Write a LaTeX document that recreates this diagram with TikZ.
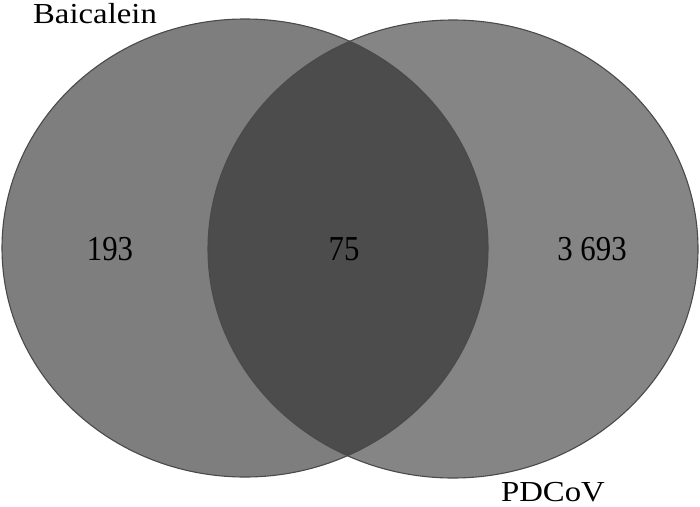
\documentclass[tikz,border=0pt]{standalone}
\usepackage{fontspec}
\setmainfont{Liberation Serif}
\usetikzlibrary{shapes.geometric}
\definecolor{leftfill}{HTML}{7E7E7E}
\definecolor{rightfill}{HTML}{858585}
\definecolor{midfill}{HTML}{4C4C4C}
\definecolor{edge}{HTML}{4A4A4A}
\tikzset{
  setlabel/.style={anchor=base, inner sep=0pt, xscale=1.13, font=\fontsize{29}{29}\selectfont},
  countlabel/.style={anchor=base, inner sep=0pt, xscale=0.88, font=\fontsize{35}{35}\selectfont},
  setedge/.style={draw=edge, line width=1.1pt}
}
\begin{document}
\begin{tikzpicture}[x=1pt,y=-1pt]
\useasboundingbox (0,0) rectangle (700,506);
\fill[white] (0,0) rectangle (700,506);
% fills
\fill[leftfill] (245,248) ellipse [x radius=243, y radius=229];
\fill[rightfill] (453,249) ellipse [x radius=245, y radius=229];
\begin{scope}
  \clip (245,248) ellipse [x radius=243, y radius=229];
  \fill[midfill] (453,249) ellipse [x radius=245, y radius=229];
\end{scope}
% outlines
\node[setedge, ellipse, minimum width=486pt, minimum height=458pt, inner sep=0pt] (A) at (245,248) {};
\node[setedge, ellipse, minimum width=490pt, minimum height=458pt, inner sep=0pt] (B) at (453,249) {};
% labels
\node[setlabel] (la) at (95,23) {Baicalein};
\node[setlabel] (lb) at (553,501) {PDCoV};
\node[countlabel] (n1) at (110,260) {193};
\node[countlabel] (n2) at (344,260) {75};
\node[countlabel] (n3) at (592,260) {3 693};
\end{tikzpicture}
\end{document}
